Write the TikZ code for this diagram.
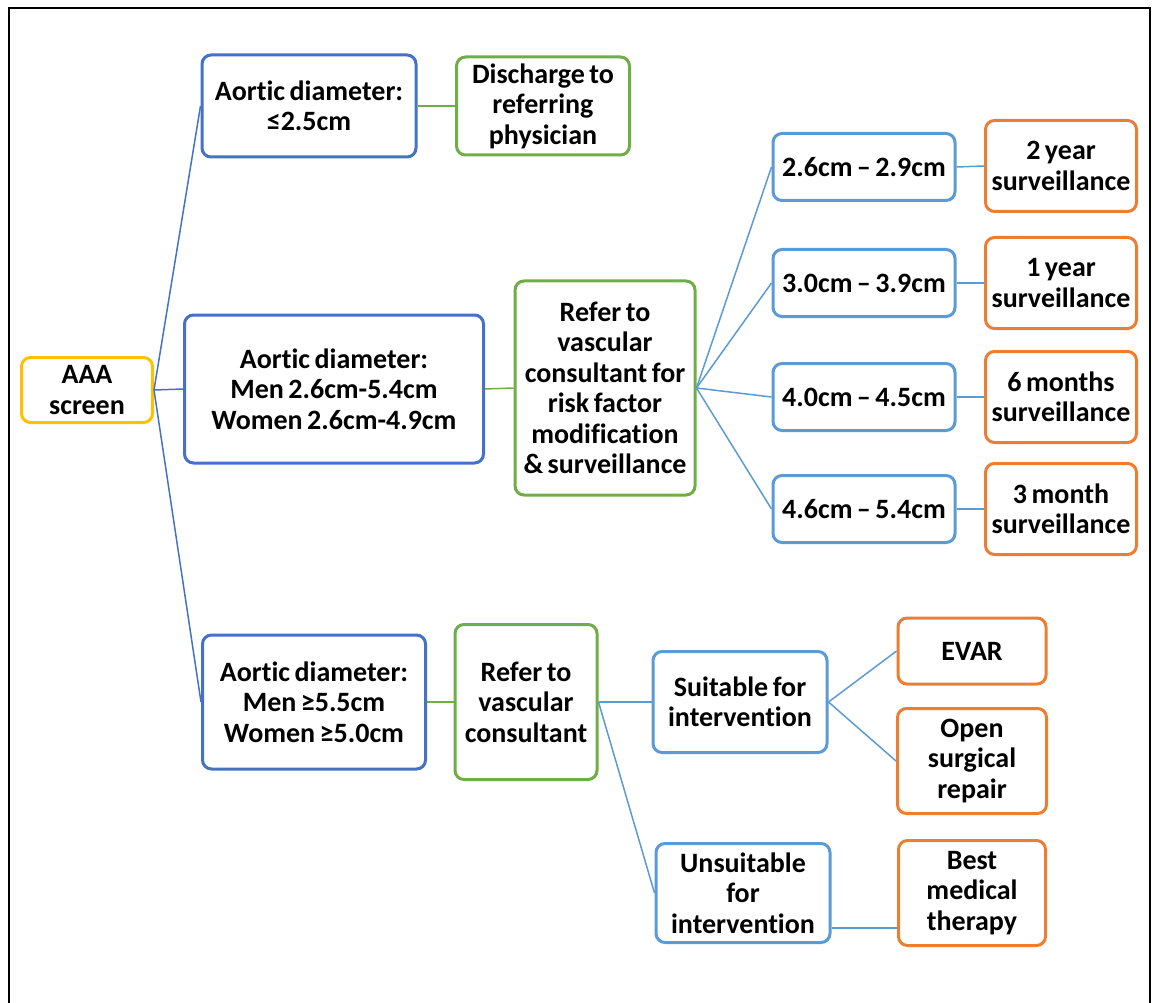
\documentclass[tikz,border=0pt]{standalone}
\usepackage{fontspec}
\setmainfont{Carlito}[Ligatures=NoCommon]
\definecolor{aaayellow}{HTML}{FFC000}
\definecolor{darkblue}{HTML}{4472C4}
\definecolor{leafgreen}{HTML}{70AD47}
\definecolor{lightblue}{HTML}{5B9BD5}
\definecolor{lateorange}{HTML}{ED7D31}
\newcommand{\boxfont}{\fontsize{28}{30.5}\selectfont\bfseries\spaceskip=4.5pt\relax}
\tikzset{
  box/.style={draw,rounded corners=9pt,line width=3pt,align=center,
    font=\boxfont,inner sep=1pt},
  yellowbox/.style={box,draw=aaayellow},
  bluebox/.style={box,draw=darkblue},
  greenbox/.style={box,draw=leafgreen},
  lbluebox/.style={box,draw=lightblue},
  orangebox/.style={box,draw=lateorange},
  link/.style={line width=1.5pt}
}
\begin{document}
\begin{tikzpicture}[x=1pt,y=-1pt]
  \useasboundingbox (0,0) rectangle (1160,1003);
  \draw[line width=2pt] (9,1003) -- (9,8) -- (1150,8) -- (1150,1003);

  % root
  \node[yellowbox,minimum width=131pt,minimum height=65pt] (aaa) at (87,390) {AAA\\screen};

  % three diameter branches
  \node[bluebox,minimum width=214pt,minimum height=102pt] (small) at (309,106) {Aortic diameter:\\≤2.5cm};
  \node[bluebox,minimum width=299pt,minimum height=148pt] (mid) at (334,389) {Aortic diameter:\\Men 2.6cm-5.4cm\\Women 2.6cm-4.9cm};
  \node[bluebox,minimum width=223pt,minimum height=134pt] (large) at (314,702) {Aortic diameter:\\Men ≥5.5cm\\Women ≥5.0cm};

  \node[greenbox,minimum width=173pt,minimum height=98pt] (discharge) at (543,106) {Discharge to\\referring\\physician};
  \node[greenbox,minimum width=180pt,minimum height=214pt] (refermid) at (605,388) {Refer to\\vascular\\consultant for\\risk factor\\modification\\\& surveillance};
  \node[greenbox,minimum width=142pt,minimum height=155pt] (referlarge) at (526,702) {Refer to\\vascular\\consultant};

  % surveillance ranges
  \node[lbluebox,minimum width=182pt,minimum height=67pt] (r1) at (864,167) {2.6cm – 2.9cm};
  \node[lbluebox,minimum width=182pt,minimum height=67pt] (r2) at (864,283) {3.0cm – 3.9cm};
  \node[lbluebox,minimum width=182pt,minimum height=67pt] (r3) at (864,397) {4.0cm – 4.5cm};
  \node[lbluebox,minimum width=182pt,minimum height=67pt] (r4) at (864,509) {4.6cm – 5.4cm};

  \node[orangebox,minimum width=151pt,minimum height=91pt] (s1) at (1061,166) {2 year\\surveillance};
  \node[orangebox,minimum width=151pt,minimum height=91pt] (s2) at (1061,283) {1 year\\surveillance};
  \node[orangebox,minimum width=151pt,minimum height=91pt] (s3) at (1061,397) {6 months\\surveillance};
  \node[orangebox,minimum width=151pt,minimum height=91pt] (s4) at (1061,509) {3 month\\surveillance};

  % repair branch
  \node[lbluebox,minimum width=174pt,minimum height=101pt] (suit) at (740,702) {Suitable for\\intervention};
  \node[lbluebox,minimum width=174pt,minimum height=99pt] (unsuit) at (743,893) {Unsuitable\\for\\intervention};

  \node[orangebox,minimum width=148pt,minimum height=66pt] (evar) at (972,651) {EVAR};
  \node[orangebox,minimum width=149pt,minimum height=105pt] (open) at (972,761) {Open\\surgical\\repair};
  \node[orangebox,minimum width=147pt,minimum height=105pt] (bmt) at (972,893) {Best\\medical\\therapy};

  % connectors
  \foreach \n in {small,mid,large}
    \draw[link,darkblue] (aaa.east) -- (\n.west);
  \draw[link,leafgreen] (small.east) -- (discharge.west);
  \draw[link,leafgreen] (mid.east) -- (refermid.west);
  \draw[link,leafgreen] (large.east) -- (referlarge.west);
  \foreach \i in {1,...,4} {
    \draw[link,lightblue] (refermid.east) -- (r\i.west);
    \draw[link,lightblue] (r\i.east) -- (s\i.west);
  }
  \draw[link,lightblue] (referlarge.east) -- (suit.west);
  \draw[link,lightblue] (referlarge.east) -- (unsuit.west);
  \draw[link,lightblue] (suit.east) -- (evar.west);
  \draw[link,lightblue] (suit.east) -- (open.west);
  \draw[link,lightblue] ([yshift=-35pt]unsuit.east) -- ([yshift=-35pt]bmt.west);
\end{tikzpicture}
\end{document}
